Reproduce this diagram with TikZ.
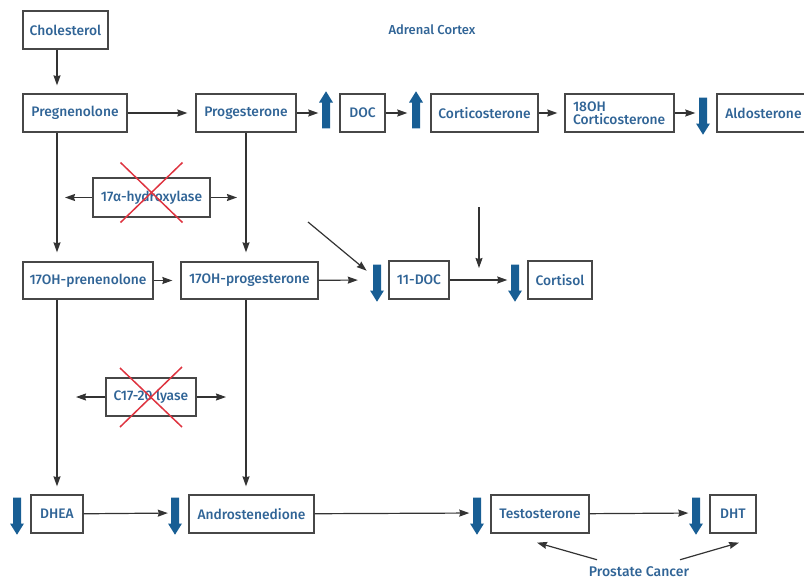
\documentclass[tikz,border=0pt]{standalone}
\usepackage{fontspec}
\setmainfont{Fira Sans Medium}
\usepackage{tikz}
\usetikzlibrary{arrows.meta,shapes,shapes.arrows,positioning}
\definecolor{steelblue}{RGB}{48,100,150}
\definecolor{arrowblue}{RGB}{24,94,148}
\definecolor{crossred}{RGB}{222,52,64}

\begin{document}
\begin{tikzpicture}[x=1pt,y=-1pt]

           \tikzstyle{every edge}=[-{Stealth[length=10pt,width=7pt,inset=1pt]},draw,line width=1.2pt,black!80]
           \tikzstyle{box}=[draw=black!72,line width=1.3pt,text=steelblue,minimum height=38pt,inner sep=2pt,font=\fontsize{13.8}{15}\selectfont]
           \tikzstyle{blue arrow}=[single arrow,fill=arrowblue,draw=none,inner sep=3.8pt,minimum height=37pt,single arrow head extend=3pt,single arrow tip angle=64]
           \tikzstyle{up}=[blue arrow,shape border rotate=90]
           \tikzstyle{down}=[blue arrow,shape border rotate=270]
           \tikzstyle{cross}=[draw=crossred,line width=1.5pt]
           \tikzstyle{label}=[text=steelblue,font=\fontsize{14}{16}\selectfont]

    \useasboundingbox (0,0) rectangle (804,579);

    \node[label,font=\fontsize{13}{15}\selectfont] (Adr) at (432,30) {Adrenal Cortex};
    \node[box, minimum width=85pt] (Cho) at (65.5,30) {Cholesterol};
    \node[box, minimum width=104pt] (Pre) at (75,113) {Pregnenolone};
    \node[box, minimum width=100pt] (Pro) at (246,113) {Progesterone};
    \node[up] (Up1) at (326,113) {};
    \node[box, minimum width=45pt] (DOC) at (362.5,113) {DOC};
    \node[up] (Up2) at (416,113) {};
    \node[box, minimum width=107pt] (Cort) at (484.5,113) {Corticosterone};
    \node[box, minimum width=109pt, align=left, text width=93pt, font=\fontsize{13.8}{13.5}\selectfont] (Coh) at (619.5,113) {18OH\\Corticosterone};
    \node[down] (Dn1) at (703,113) {};
    \node[box, minimum width=93pt] (Ald) at (763.5,113) {Aldosterone};

    \node[box, minimum width=117pt, minimum height=39pt] (Hyd) at (151.5,197.5) {17α-hydroxylase};
    \coordinate (HydL) at (65,197.5);
    \coordinate (HydR) at (237,197.5);

    \node[box, minimum width=130pt, minimum height=37pt] (HPre) at (88,280.5) {17OH-prenenolone};
    \node[box, minimum width=137pt, minimum height=37pt] (HPro) at (249.5,280.5) {17OH-progesterone};
    \node[down] (Dn2) at (377,280) {};
    \node[box, minimum width=60pt] (DOCb) at (419,280) {11-DOC};
    \node[down] (Dn3) at (515,280) {};
    \node[box, minimum width=64pt] (Cis) at (560,280) {Cortisol};
    \coordinate (DiagS) at (308,222);
    \coordinate (VertS) at (479,207);
    \coordinate (VertE) at (479,268);

    \node[box, minimum width=90pt] (Lya) at (151,397) {C17-20 lyase};
    \coordinate (LyaL) at (76,397);
    \coordinate (LyaR) at (226,397);

    \node[down] (Dn4) at (17,513) {};
    \node[box, minimum width=52pt] (DHEA) at (57,514) {DHEA};
    \node[down] (Dn5) at (175,513) {};
    \node[box, minimum width=125pt] (And) at (251.5,514) {Androstenedione};
    \node[down] (Dn6) at (477,513) {};
    \node[box, minimum width=98pt] (Tes) at (540,514) {Testosterone};
    \node[down] (Dn7) at (696,513) {};
    \node[box, minimum width=46pt] (DHT) at (733,514) {DHT};
    \node[label, inner sep=0pt] (PC) at (639,572) {Prostate Cancer};

    \path ([xshift=-8.5pt]Cho.south) edge [shorten >=8pt] ([xshift=-18pt]Pre.north);
    \path (Pre) edge [shorten >=8pt] (Pro);
    \path (Pro) edge [shorten >=3.5pt] (Up1);
    \path (DOC) edge [shorten >=4.5pt] (Up2);
    \path (Cort) edge [shorten >=7pt] (Coh);
    \path (Coh) edge [shorten >=3.5pt] (Dn1);
    \path ([xshift=-18pt]Pre.south) edge [shorten >=9pt] ([xshift=-31pt]HPre.north);
    \path (Pro.south) edge [shorten >=9pt] ([xshift=-3.5pt]HPro.north);
    \path (Hyd) edge (HydL);
    \path (Hyd) edge (HydR);

    \path (HPre) edge [shorten >=8pt] (HPro);
    \path (HPro) edge [shorten >=15pt] (Dn2);
    \path (DiagS) edge [shorten >=8pt] (Dn2.north west);
    \path (DOCb) edge [shorten >=3.5pt] (Dn3);
    \path (VertS) edge (VertE);
    \path ([xshift=-31pt]HPre.south) edge [shorten >=8pt] (DHEA.north);
    \path ([xshift=-3.5pt]HPro.south) edge [shorten >=8pt] ([xshift=-5.5pt]And.north);
    \path (Lya) edge (LyaL);
    \path (Lya) edge (LyaR);

    \path (DHEA) edge [shorten >=3pt] (Dn5);
    \path (And) edge [shorten >=3.5pt] (Dn6);
    \path (Tes) edge [shorten >=3.5pt] (Dn7);
    \path ([xshift=-42pt,yshift=7pt]PC.north) edge ([xshift=-3pt,yshift=-9pt]Tes.south);
    \path ([xshift=41pt,yshift=7pt]PC.north) edge ([xshift=6pt,yshift=-9pt]DHT.south);

    \draw[cross] ([shift={(-31,-35)}]Hyd.center) -- ([shift={(31,25)}]Hyd.center);
    \draw[cross] ([shift={(31,-35)}]Hyd.center) -- ([shift={(-31,25)}]Hyd.center);
    \draw[cross] ([shift={(-31,-29)}]Lya.center) -- ([shift={(31,30)}]Lya.center);
    \draw[cross] ([shift={(31,-30)}]Lya.center) -- ([shift={(-31,30)}]Lya.center);
 \end{tikzpicture}
\end{document}
